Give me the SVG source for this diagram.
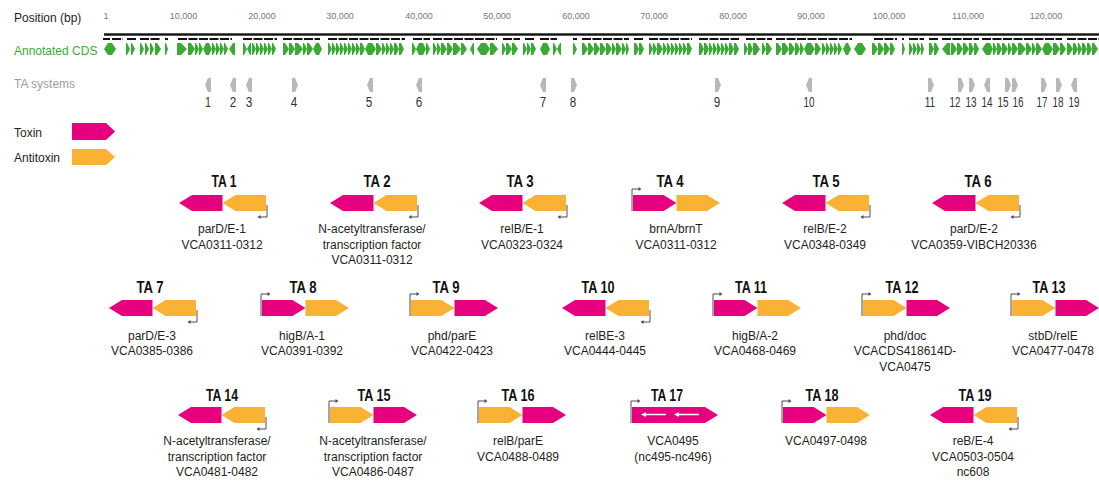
<svg xmlns="http://www.w3.org/2000/svg" xmlns:xlink="http://www.w3.org/1999/xlink" width="1099" height="481" viewBox="0 0 1099 481">
<style>
  .tox{fill:#e6007e}
  .anti{fill:#f9b233}
  .lbl{font-family:"Liberation Sans",Arial,sans-serif;font-size:12px;fill:#231f20;text-anchor:middle}
  .ttl{font-family:"Liberation Sans",Arial,sans-serif;font-weight:bold;font-size:16px;fill:#111;text-anchor:middle}
  .prom{fill:none;stroke:#4d4d4d;stroke-width:1}
  .ph{fill:#4d4d4d}
  .num{font-family:"Liberation Sans",Arial,sans-serif;font-size:14px;fill:#333;text-anchor:middle}
  .mk{fill:#b8b8b8}
  .tick{font-family:"Liberation Sans",Arial,sans-serif;font-size:9px;fill:#777;text-anchor:middle}
  .head{font-family:"Liberation Sans",Arial,sans-serif;font-size:12px}
  .cds{fill:#3aaa35}
</style>
<defs>
  <!-- gene arrows, 43.5 x 16 -->
  <path id="al" d="M0 8L13 0H43.5V16H13Z"/>
  <path id="ar" d="M0 0H30.5L43.5 8L30.5 16H0Z"/>
  <path id="along" d="M0 0H73L86 8L73 16H0Z"/>
  <!-- promoter on the right end, pointing left (y = arrow top) -->
  <g id="pR"><path class="prom" d="M1 10V22H-6"/><path class="ph" d="M-8.5 22l3-2v4z"/></g>
  <!-- promoter on the left end, pointing right (y = arrow top) -->
  <g id="pL"><path class="prom" d="M-1 16V-6H6"/><path class="ph" d="M8.5 -6l-3-2v4z"/></g>
  <!-- TA system position markers -->
  <path id="mL" d="M-3 85L0 78H3V92H0Z"/>
  <path id="mR" d="M-3 78H0L3 85L0 92H-3Z"/>
</defs>
<rect width="1099" height="481" fill="#fff"/>

<!-- genome tracks -->
<g id="tracks">
  <text class="head" x="14" y="22" fill="#231f20">Position (bp)</text>
  <text class="head" x="14" y="55" fill="#3aaa35">Annotated CDS</text>
  <text class="head" x="14" y="88" fill="#9d9d9d">TA systems</text>
  <g id="ruler">
    <text class="tick" x="106" y="19">1</text>
    <text class="tick" x="183.5" y="19">10,000</text>
    <text class="tick" x="262" y="19">20,000</text>
    <text class="tick" x="340" y="19">30,000</text>
    <text class="tick" x="419" y="19">40,000</text>
    <text class="tick" x="497" y="19">50,000</text>
    <text class="tick" x="576" y="19">60,000</text>
    <text class="tick" x="654" y="19">70,000</text>
    <text class="tick" x="733" y="19">80,000</text>
    <text class="tick" x="811" y="19">90,000</text>
    <text class="tick" x="889" y="19">100,000</text>
    <text class="tick" x="968" y="19">110,000</text>
    <text class="tick" x="1046" y="19">120,000</text>
  </g>
  <rect x="104" y="33.3" width="995" height="2.4" fill="#111"/>
  <path fill="none" stroke="#111" stroke-width="2" stroke-dasharray="9 1.5" d="M103 39H110M112 39H123M127 39H136M140 39H161M165 39H168M178 39H232M243 39H277M283 39H320M328 39H405M413 39H430M433 39H497M503 39H520M525 39H535M540 39H557M573 39H577M582 39H629M634 39H644M649 39H692M699 39H739M746 39H772M776 39H852M874 39H897M902 39H904M909 39H924M929 39H939M942 39H979M982 39H1062M1067 39H1099"/>
  <path class="cds" d="M104 49l4-6h2v12h-2zM110 43h2l4 6l-4 6h-2zM126 43h1l3 6l-3 6h-1zM131 43h1l3 6l-3 6h-1zM140 43h1l3 6l-3 6h-1zM145 43h1l3 6l-3 6h-1zM150 43h1l3 6l-3 6h-1zM155 43h2l4 6l-4 6h-2zM165 43h1l2 6l-2 6h-1zM177 43h4l6 6l-6 6h-4zM188 43h3l4 6l-4 6h-3zM195 43h1l3 6l-3 6h-1zM199 43h1l3 6l-3 6h-1zM203 49l3-6h2v12h-2zM208 43h1l3 6l-3 6h-1zM212 43h1l3 6l-3 6h-1zM216 43h1l3 6l-3 6h-1zM220 43h1l3 6l-3 6h-1zM224 43h1l3 6l-3 6h-1zM229 49l4-6h2v12h-2zM243 43h1l3 6l-3 6h-1zM247 49l3-6h1v12h-1zM252 43h1l3 6l-3 6h-1zM256 43h1l3 6l-3 6h-1zM260 43h1l3 6l-3 6h-1zM264 43h1l3 6l-3 6h-1zM268 43h1l3 6l-3 6h-1zM272 43h1l3 6l-3 6h-1zM283 43h2l4 6l-4 6h-2zM289 43h2l4 6l-4 6h-2zM295 43h3l5 6l-5 6h-3zM303 43h1l3 6l-3 6h-1zM307 43h2l4 6l-4 6h-2zM313 49l3-6h1v12h-1zM317 43h2l3 6l-3 6h-2zM328 43h1l3 6l-3 6h-1zM332 43h1l3 6l-3 6h-1zM336 43h1l3 6l-3 6h-1zM340 43h1l3 6l-3 6h-1zM344 43h1l3 6l-3 6h-1zM348 43h1l3 6l-3 6h-1zM352 43h1l3 6l-3 6h-1zM356 43h1l3 6l-3 6h-1zM360 43h2l3 6l-3 6h-2zM365 49l3-6h2v12h-2zM370 43h2l4 6l-4 6h-2zM376 43h2l4 6l-4 6h-2zM382 43h1l3 6l-3 6h-1zM386 43h1l3 6l-3 6h-1zM390 43h1l3 6l-3 6h-1zM394 43h2l3 6l-3 6h-2zM399 43h2l3 6l-3 6h-2zM412 43h1l3 6l-3 6h-1zM416 49l3-6h2v12h-2zM421 43h2l3 6l-3 6h-2zM426 43h1l3 6l-3 6h-1zM433 43h1l3 6l-3 6h-1zM437 43h1l3 6l-3 6h-1zM441 43h2l4 6l-4 6h-2zM447 43h2l4 6l-4 6h-2zM453 43h3l5 6l-5 6h-3zM461 43h2l4 6l-4 6h-2zM470 49l3-6h1v12h-1zM477 49l4-6h3v12h-3zM484 43h2l4 6l-4 6h-2zM490 43h3l5 6l-5 6h-3zM502 43h1l3 6l-3 6h-1zM506 43h2l4 6l-4 6h-2zM512 43h2l4 6l-4 6h-2zM523 43h1l3 6l-3 6h-1zM527 43h1l3 6l-3 6h-1zM531 43h2l3 6l-3 6h-2zM540 49l3-6h2v12h-2zM545 43h2l3 6l-3 6h-2zM553 43h1l3 6l-3 6h-1zM557 49l3-6h1v12h-1zM573 43h1l3 6l-3 6h-1zM582 43h2l4 6l-4 6h-2zM588 43h2l4 6l-4 6h-2zM594 43h2l4 6l-4 6h-2zM600 43h2l4 6l-4 6h-2zM606 43h2l4 6l-4 6h-2zM612 43h1l3 6l-3 6h-1zM616 43h2l4 6l-4 6h-2zM622 43h1l3 6l-3 6h-1zM626 43h1l2 6l-2 6h-1zM634 43h2l3 6l-3 6h-2zM639 43h2l3 6l-3 6h-2zM649 43h1l3 6l-3 6h-1zM653 43h1l3 6l-3 6h-1zM657 43h2l4 6l-4 6h-2zM663 43h1l3 6l-3 6h-1zM667 43h1l3 6l-3 6h-1zM671 43h1l3 6l-3 6h-1zM675 43h1l3 6l-3 6h-1zM679 43h1l3 6l-3 6h-1zM683 43h1l3 6l-3 6h-1zM687 43h2l3 6l-3 6h-2zM699 43h2l3 6l-3 6h-2zM704 43h2l3 6l-3 6h-2zM709 43h1l3 6l-3 6h-1zM713 43h1l3 6l-3 6h-1zM717 43h1l3 6l-3 6h-1zM721 43h1l3 6l-3 6h-1zM725 43h1l3 6l-3 6h-1zM729 43h2l3 6l-3 6h-2zM734 43h2l3 6l-3 6h-2zM744 43h1l3 6l-3 6h-1zM748 43h2l3 6l-3 6h-2zM753 43h3l4 6l-4 6h-3zM762 43h1l3 6l-3 6h-1zM766 43h2l4 6l-4 6h-2zM776 43h2l4 6l-4 6h-2zM782 43h3l4 6l-4 6h-3zM789 43h2l4 6l-4 6h-2zM795 43h2l3 6l-3 6h-2zM800 43h1l3 6l-3 6h-1zM804 49l3-6h2v12h-2zM809 43h2l4 6l-4 6h-2zM815 43h2l4 6l-4 6h-2zM822 43h1l3 6l-3 6h-1zM826 43h1l3 6l-3 6h-1zM830 43h1l3 6l-3 6h-1zM834 43h1l3 6l-3 6h-1zM838 43h1l3 6l-3 6h-1zM843 49l3-6h1v12h-1zM847 43h1l3 6l-3 6h-1zM854 49l4-6h2v12h-2zM860 43h2l4 6l-4 6h-2zM872 43h2l4 6l-4 6h-2zM878 43h2l4 6l-4 6h-2zM884 43h2l4 6l-4 6h-2zM890 43h2l3 6l-3 6h-2zM902 43h1l2 6l-2 6h-1zM909 43h1l3 6l-3 6h-1zM913 43h1l3 6l-3 6h-1zM917 43h1l3 6l-3 6h-1zM921 43h1l2 6l-2 6h-1zM929 43h2l3 6l-3 6h-2zM934 43h2l3 6l-3 6h-2zM942 49l5-6h3v12h-3zM951 43h2l4 6l-4 6h-2zM957 43h2l4 6l-4 6h-2zM963 43h2l4 6l-4 6h-2zM969 43h2l3 6l-3 6h-2zM974 43h2l3 6l-3 6h-2zM982 49l4-6h2v12h-2zM988 43h2l3 6l-3 6h-2zM993 43h1l3 6l-3 6h-1zM997 43h2l3 6l-3 6h-2zM1002 43h2l4 6l-4 6h-2zM1008 43h1l3 6l-3 6h-1zM1012 43h2l4 6l-4 6h-2zM1018 43h3l5 6l-5 6h-3zM1026 43h2l4 6l-4 6h-2zM1032 43h1l3 6l-3 6h-1zM1036 43h2l4 6l-4 6h-2zM1042 49l3-6h2v12h-2zM1047 43h2l4 6l-4 6h-2zM1053 43h3l4 6l-4 6h-3zM1060 43h2l4 6l-4 6h-2zM1067 43h2l4 6l-4 6h-2zM1073 43h2l3 6l-3 6h-2zM1078 43h1l3 6l-3 6h-1zM1082 43h2l3 6l-3 6h-2zM1087 43h2l3 6l-3 6h-2zM1092 43h2l4 6l-4 6h-2z"/>
  <g id="ta-markers" class="mk">
    <use href="#mL" x="208"/><use href="#mL" x="233"/><use href="#mL" x="249"/><use href="#mR" x="295"/>
    <use href="#mL" x="370"/><use href="#mL" x="419"/><use href="#mL" x="543"/><use href="#mR" x="574"/>
    <use href="#mR" x="718"/><use href="#mL" x="809"/><use href="#mR" x="931"/><use href="#mR" x="961"/>
    <use href="#mR" x="972"/><use href="#mL" x="987"/><use href="#mR" x="1008"/><use href="#mR" x="1015"/>
    <use href="#mR" x="1044"/><use href="#mR" x="1059"/><use href="#mL" x="1074"/>
  </g>
  <g id="ta-numbers" class="num" lengthAdjust="spacingAndGlyphs">
    <text x="208" y="107" textLength="6" lengthAdjust="spacingAndGlyphs">1</text>
    <text x="233" y="107" textLength="6.5" lengthAdjust="spacingAndGlyphs">2</text>
    <text x="249" y="107" textLength="6.5" lengthAdjust="spacingAndGlyphs">3</text>
    <text x="294" y="107" textLength="6.5" lengthAdjust="spacingAndGlyphs">4</text>
    <text x="369" y="107" textLength="6.5" lengthAdjust="spacingAndGlyphs">5</text>
    <text x="419" y="107" textLength="6.5" lengthAdjust="spacingAndGlyphs">6</text>
    <text x="543" y="107" textLength="6.5" lengthAdjust="spacingAndGlyphs">7</text>
    <text x="573" y="107" textLength="6.5" lengthAdjust="spacingAndGlyphs">8</text>
    <text x="717" y="107" textLength="6.5" lengthAdjust="spacingAndGlyphs">9</text>
    <text x="809" y="107" textLength="11" lengthAdjust="spacingAndGlyphs">10</text>
    <text x="930" y="107" textLength="10.5" lengthAdjust="spacingAndGlyphs">11</text>
    <text x="955" y="107" textLength="11" lengthAdjust="spacingAndGlyphs">12</text>
    <text x="971" y="107" textLength="11" lengthAdjust="spacingAndGlyphs">13</text>
    <text x="987" y="107" textLength="11" lengthAdjust="spacingAndGlyphs">14</text>
    <text x="1003" y="107" textLength="11" lengthAdjust="spacingAndGlyphs">15</text>
    <text x="1018" y="107" textLength="11" lengthAdjust="spacingAndGlyphs">16</text>
    <text x="1042" y="107" textLength="11" lengthAdjust="spacingAndGlyphs">17</text>
    <text x="1058" y="107" textLength="11" lengthAdjust="spacingAndGlyphs">18</text>
    <text x="1074" y="107" textLength="11" lengthAdjust="spacingAndGlyphs">19</text>
  </g>
</g>

<!-- legend -->
<g id="legend">
  <text class="head" x="14" y="137" fill="#231f20">Toxin</text>
  <path class="tox" d="M72 123H106L115 131.5L106 140H72Z"/>
  <text class="head" x="14" y="162" fill="#231f20">Antitoxin</text>
  <path class="anti" d="M72 149H106L115 157L106 165H72Z"/>
</g>

<!-- row 1 -->
<g id="ta1">
  <text class="ttl" x="224" y="187" textLength="25" lengthAdjust="spacingAndGlyphs">TA 1</text>
  <use href="#pR" x="266" y="195"/>
  <use href="#al" class="tox" x="179" y="195"/><use href="#al" class="anti" x="222.5" y="195"/>
  <text class="lbl" x="222" y="233">parD/E-1</text><text class="lbl" x="222" y="248.5">VCA0311-0312</text>
</g>
<g id="ta2">
  <text class="ttl" x="377" y="187" textLength="27" lengthAdjust="spacingAndGlyphs">TA 2</text>
  <use href="#pR" x="417" y="195"/>
  <use href="#al" class="tox" x="330" y="195"/><use href="#al" class="anti" x="373.5" y="195"/>
  <text class="lbl" x="372" y="233">N-acetyltransferase/</text><text class="lbl" x="372" y="248.5">transcription factor</text><text class="lbl" x="372" y="264">VCA0311-0312</text>
</g>
<g id="ta3">
  <text class="ttl" x="520" y="187" textLength="27" lengthAdjust="spacingAndGlyphs">TA 3</text>
  <use href="#pR" x="566" y="195"/>
  <use href="#al" class="tox" x="479" y="195"/><use href="#al" class="anti" x="522.5" y="195"/>
  <text class="lbl" x="522" y="233">relB/E-1</text><text class="lbl" x="522" y="248.5">VCA0323-0324</text>
</g>
<g id="ta4">
  <text class="ttl" x="670" y="187" textLength="27" lengthAdjust="spacingAndGlyphs">TA 4</text>
  <use href="#pL" x="633" y="195"/>
  <use href="#ar" class="tox" x="633" y="195"/><use href="#ar" class="anti" x="676.5" y="195"/>
  <text class="lbl" x="676" y="233">brnA/brnT</text><text class="lbl" x="676" y="248.5">VCA0311-0312</text>
</g>
<g id="ta5">
  <text class="ttl" x="826" y="187" textLength="27" lengthAdjust="spacingAndGlyphs">TA 5</text>
  <use href="#pR" x="869" y="195"/>
  <use href="#al" class="tox" x="782" y="195"/><use href="#al" class="anti" x="825.5" y="195"/>
  <text class="lbl" x="825" y="233">relB/E-2</text><text class="lbl" x="825" y="248.5">VCA0348-0349</text>
</g>
<g id="ta6">
  <text class="ttl" x="978" y="187" textLength="27" lengthAdjust="spacingAndGlyphs">TA 6</text>
  <use href="#pR" x="1019" y="195"/>
  <use href="#al" class="tox" x="932" y="195"/><use href="#al" class="anti" x="975.5" y="195"/>
  <text class="lbl" x="974" y="233">parD/E-2</text><text class="lbl" x="974" y="248.5">VCA0359-VIBCH20336</text>
</g>

<!-- row 2 -->
<g id="ta7">
  <text class="ttl" x="150" y="293" textLength="27" lengthAdjust="spacingAndGlyphs">TA 7</text>
  <use href="#pR" x="196" y="300"/>
  <use href="#al" class="tox" x="109" y="300"/><use href="#al" class="anti" x="152.5" y="300"/>
  <text class="lbl" x="152" y="339.5">parD/E-3</text><text class="lbl" x="152" y="355">VCA0385-0386</text>
</g>
<g id="ta8">
  <text class="ttl" x="303" y="293" textLength="27" lengthAdjust="spacingAndGlyphs">TA 8</text>
  <use href="#pL" x="262" y="300"/>
  <use href="#ar" class="tox" x="262" y="300"/><use href="#ar" class="anti" x="305.5" y="300"/>
  <text class="lbl" x="302" y="339.5">higB/A-1</text><text class="lbl" x="302" y="355">VCA0391-0392</text>
</g>
<g id="ta9">
  <text class="ttl" x="446" y="293" textLength="27" lengthAdjust="spacingAndGlyphs">TA 9</text>
  <use href="#pL" x="411" y="300"/>
  <use href="#ar" class="anti" x="411" y="300"/><use href="#ar" class="tox" x="454.5" y="300"/>
  <text class="lbl" x="452" y="339.5">phd/parE</text><text class="lbl" x="452" y="355">VCA0422-0423</text>
</g>
<g id="ta10">
  <text class="ttl" x="598" y="293" textLength="33" lengthAdjust="spacingAndGlyphs">TA 10</text>
  <use href="#pR" x="649" y="300"/>
  <use href="#al" class="tox" x="562" y="300"/><use href="#al" class="anti" x="605.5" y="300"/>
  <text class="lbl" x="605" y="339.5">relBE-3</text><text class="lbl" x="605" y="355">VCA0444-0445</text>
</g>
<g id="ta11">
  <text class="ttl" x="751" y="293" textLength="32" lengthAdjust="spacingAndGlyphs">TA 11</text>
  <use href="#pL" x="714" y="300"/>
  <use href="#ar" class="tox" x="714" y="300"/><use href="#ar" class="anti" x="757.5" y="300"/>
  <text class="lbl" x="755" y="339.5">higB/A-2</text><text class="lbl" x="755" y="355">VCA0468-0469</text>
</g>
<g id="ta12">
  <text class="ttl" x="902" y="293" textLength="33" lengthAdjust="spacingAndGlyphs">TA 12</text>
  <use href="#pL" x="863" y="300"/>
  <use href="#ar" class="anti" x="863" y="300"/><use href="#ar" class="tox" x="906.5" y="300"/>
  <text class="lbl" x="905" y="339.5">phd/doc</text><text class="lbl" x="905" y="355">VCACDS418614D-</text><text class="lbl" x="905" y="370.5">VCA0475</text>
</g>
<g id="ta13">
  <text class="ttl" x="1049" y="293" textLength="33" lengthAdjust="spacingAndGlyphs">TA 13</text>
  <use href="#pL" x="1012" y="300"/>
  <use href="#ar" class="anti" x="1012" y="300"/><use href="#ar" class="tox" x="1055.5" y="300"/>
  <text class="lbl" x="1053" y="339.5">stbD/relE</text><text class="lbl" x="1053" y="355">VCA0477-0478</text>
</g>

<!-- row 3 -->
<g id="ta14">
  <text class="ttl" x="222" y="401" textLength="32" lengthAdjust="spacingAndGlyphs">TA 14</text>
  <use href="#pR" x="265" y="407"/>
  <use href="#al" class="tox" x="178" y="407"/><use href="#al" class="anti" x="221.5" y="407"/>
  <text class="lbl" x="217" y="445">N-acetyltransferase/</text><text class="lbl" x="217" y="460.5">transcription factor</text><text class="lbl" x="217" y="476">VCA0481-0482</text>
</g>
<g id="ta15">
  <text class="ttl" x="374" y="401" textLength="33" lengthAdjust="spacingAndGlyphs">TA 15</text>
  <use href="#pL" x="330" y="407"/>
  <use href="#ar" class="anti" x="330" y="407"/><use href="#ar" class="tox" x="373.5" y="407"/>
  <text class="lbl" x="373" y="445">N-acetyltransferase/</text><text class="lbl" x="373" y="460.5">transcription factor</text><text class="lbl" x="373" y="476">VCA0486-0487</text>
</g>
<g id="ta16">
  <text class="ttl" x="518" y="401" textLength="33" lengthAdjust="spacingAndGlyphs">TA 16</text>
  <use href="#pL" x="479" y="407"/>
  <use href="#ar" class="anti" x="479" y="407"/><use href="#ar" class="tox" x="522.5" y="407"/>
  <text class="lbl" x="518" y="445">relB/parE</text><text class="lbl" x="518" y="460.5">VCA0488-0489</text>
</g>
<g id="ta17">
  <text class="ttl" x="667" y="401" textLength="32" lengthAdjust="spacingAndGlyphs">TA 17</text>
  <use href="#pL" x="632" y="407"/>
  <use href="#along" class="tox" x="632" y="407"/>
  <path d="M645 414.5H666M678 414.5H699" fill="none" stroke="#fff" stroke-width="1.3"/>
  <path d="M641 414.5l5-2.5v5zM674 414.5l5-2.5v5z" fill="#fff"/>
  <text class="lbl" x="673" y="445">VCA0495</text><text class="lbl" x="673" y="460.5">(nc495-nc496)</text>
</g>
<g id="ta18">
  <text class="ttl" x="822" y="401" textLength="33" lengthAdjust="spacingAndGlyphs">TA 18</text>
  <use href="#pL" x="783" y="407"/>
  <use href="#ar" class="tox" x="783" y="407"/><use href="#ar" class="anti" x="826.5" y="407"/>
  <text class="lbl" x="826" y="445">VCA0497-0498</text>
</g>
<g id="ta19">
  <text class="ttl" x="975" y="401" textLength="33" lengthAdjust="spacingAndGlyphs">TA 19</text>
  <use href="#pR" x="1017" y="407"/>
  <use href="#al" class="tox" x="930" y="407"/><use href="#al" class="anti" x="973.5" y="407"/>
  <text class="lbl" x="973" y="445">reB/E-4</text><text class="lbl" x="973" y="460.5">VCA0503-0504</text><text class="lbl" x="973" y="476">nc608</text>
</g>
</svg>
